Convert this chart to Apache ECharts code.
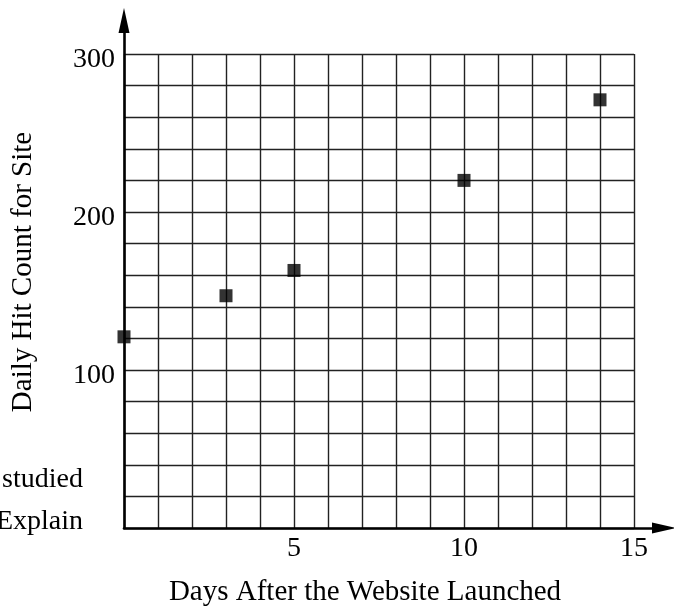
<!DOCTYPE html>
<html>
<head>
<meta charset="utf-8">
<script src="https://cdn.jsdelivr.net/npm/echarts@6/dist/echarts.min.js"></script>
<style>
  html, body { margin: 0; padding: 0; background: #fff; }
  #main { width: 674px; height: 608px; }
</style>
</head>
<body>
<div id="main"></div>
<script>
var days = [0, 3, 5, 10, 14];
var hits = [121, 147, 163, 220, 271];
var xTickLabels = [5, 10, 15];
var yTickLabels = [100, 200, 300];

var chartDom = document.getElementById('main');
var myChart = echarts.init(chartDom);

var font = 'Liberation Serif';
var gridColor = '#222';

var points = days.map(function (d, i) {
    return [d, hits[i]];
});

var option = {
    animation: false,
    backgroundColor: '#fff',
    grid: [
        { left: 124, top: 54, width: 510, height: 474 },
        // wider grid only for the arrow axes
        { left: 124, top: 20.5, width: 540, height: 507.5 }
    ],
    xAxis: [
        {
            gridIndex: 0,
            type: 'value',
            min: 0,
            max: 15,
            interval: 1,
            axisLine: { show: false },
            axisTick: { show: false },
            splitLine: { show: true, lineStyle: { color: gridColor, width: 1.4 } },
            axisLabel: {
                margin: 7,
                color: '#000',
                fontFamily: font,
                fontSize: 28,
                formatter: function (v) {
                    return xTickLabels.indexOf(v) > -1 ? String(v) : '';
                }
            }
        },
        {
            gridIndex: 1,
            type: 'value',
            min: 0,
            max: 1,
            axisLine: {
                show: true,
                onZero: false,
                symbol: ['none', 'triangle'],
                symbolSize: [11, 24],
                lineStyle: { color: '#000', width: 2.6 }
            },
            axisTick: { show: false },
            axisLabel: { show: false },
            splitLine: { show: false }
        }
    ],
    yAxis: [
        {
            gridIndex: 0,
            type: 'value',
            min: 0,
            max: 300,
            interval: 20,
            axisLine: { show: false },
            axisTick: { show: false },
            splitLine: { show: true, lineStyle: { color: gridColor, width: 1.4 } },
            axisLabel: {
                margin: 9,
                verticalAlign: 'top',
                lineHeight: 11,
                color: '#000',
                fontFamily: font,
                fontSize: 28,
                formatter: function (v) {
                    return yTickLabels.indexOf(v) > -1 ? String(v) : '';
                }
            }
        },
        {
            gridIndex: 1,
            type: 'value',
            min: 0,
            max: 1,
            axisLine: {
                show: true,
                onZero: false,
                symbol: ['none', 'triangle'],
                symbolSize: [11, 25],
                lineStyle: { color: '#000', width: 2.6 }
            },
            axisTick: { show: false },
            axisLabel: { show: false },
            splitLine: { show: false }
        }
    ],
    series: [
        {
            type: 'scatter',
            xAxisIndex: 0,
            yAxisIndex: 0,
            symbol: 'rect',
            symbolSize: 13,
            itemStyle: { color: '#000' },
            z: 10,
            data: points
        }
    ],
    graphic: [
        {
            type: 'text',
            x: 365,
            y: 592,
            style: {
                text: 'Days After the Website Launched',
                font: '29px "Liberation Serif"',
                fill: '#000',
                textAlign: 'center',
                textVerticalAlign: 'middle'
            }
        },
        {
            type: 'text',
            x: 23,
            y: 272,
            rotation: Math.PI / 2,
            style: {
                text: 'Daily Hit Count for Site',
                font: '29px "Liberation Serif"',
                fill: '#000',
                textAlign: 'center',
                textVerticalAlign: 'middle'
            }
        },
        {
            type: 'text',
            x: 83,
            y: 480,
            style: {
                text: 'studied',
                font: '28px "Liberation Serif"',
                fill: '#000',
                textAlign: 'right',
                textVerticalAlign: 'middle'
            }
        },
        {
            type: 'text',
            x: 83,
            y: 522,
            style: {
                text: 'Explain',
                font: '28px "Liberation Serif"',
                fill: '#000',
                textAlign: 'right',
                textVerticalAlign: 'middle'
            }
        }
    ]
};

myChart.setOption(option);
</script>
</body>
</html>
